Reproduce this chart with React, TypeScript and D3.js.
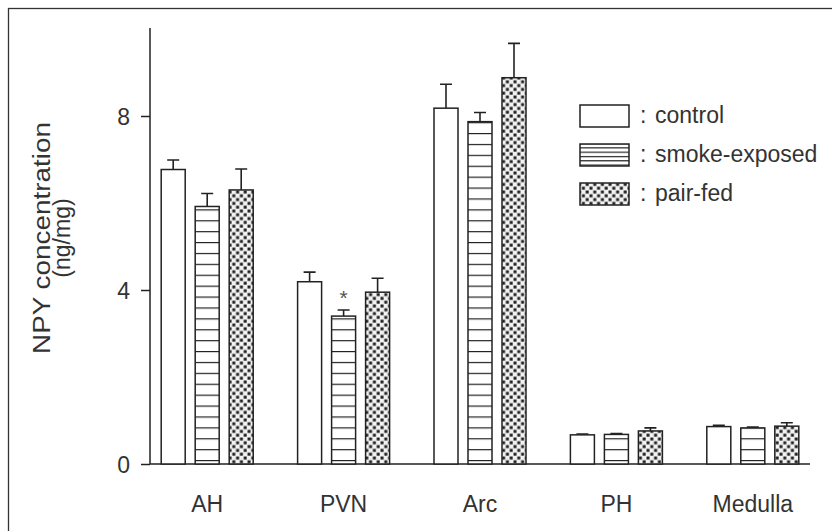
import React, { useEffect, useRef } from 'react';
import * as d3 from 'd3';

// regions on the x axis
const regions = ['AH', 'PVN', 'Arc', 'PH', 'Medulla'];
const groups = ['control', 'smoke-exposed', 'pair-fed'];

// NPY concentration (ng/mg), mean and SEM
const control = [6.77, 4.19, 8.18, 0.67, 0.86];
const controlErr = [0.22, 0.22, 0.55, 0.02, 0.03];
const smoke = [5.92, 3.40, 7.87, 0.68, 0.83];
const smokeErr = [0.30, 0.14, 0.21, 0.02, 0.02];
const pairFed = [6.30, 3.95, 8.88, 0.76, 0.87];
const pairFedErr = [0.48, 0.32, 0.79, 0.07, 0.08];

const yTicks = [0, 4, 8];
// significant difference marks: [region, group]
const stars = [['PVN', 'smoke-exposed']];

const fills = ['white', 'url(#stripes)', 'url(#checks)'];
const legendFills = ['white', 'url(#stripesSmall)', 'url(#checks)'];
const ink = '#222';
const font = '"Liberation Sans", Arial, Helvetica, sans-serif';
const fs = 23;

export default function App() {
    const ref = useRef<SVGSVGElement>(null);

    useEffect(() => {
        const width = 832, height = 531;
        const svg = d3.select(ref.current);
        svg.selectAll('*').remove();

        const baseY = 464;
        const axisX = 150;

        var y = d3.scaleLinear().domain([0, 10]).range([baseY, 29]);
        var x = d3.scaleBand().domain(regions).range([139, 821]).padding(0);
        var xi = d3.scaleBand().domain(groups).range([-46, 46]).paddingInner(10 / 34);

        // patterns
        const defs = svg.append('defs');
        const stripe = (id: string, step: number, offset: number) => {
            const p = defs.append('pattern').attr('id', id)
                .attr('patternUnits', 'userSpaceOnUse')
                .attr('width', 8).attr('height', step)
                .attr('patternTransform', 'translate(0,' + offset + ')');
            p.append('rect').attr('width', 8).attr('height', step).attr('fill', 'white');
            p.append('line').attr('x1', 0).attr('x2', 8).attr('y1', 0.6).attr('y2', 0.6)
                .attr('stroke', ink).attr('stroke-width', 1.2);
        };
        stripe('stripes', 10.9, baseY - 4);
        stripe('stripesSmall', 4.3, 143);
        const checks = (id: string, s: number) => {
            const p = defs.append('pattern').attr('id', id)
                .attr('patternUnits', 'userSpaceOnUse')
                .attr('width', s * 2).attr('height', s * 2);
            p.append('rect').attr('width', s * 2).attr('height', s * 2).attr('fill', '#f2f2f2');
            p.append('rect').attr('x', 0.5).attr('y', 0.5).attr('width', s - 0.8).attr('height', s - 0.8).attr('fill', '#1e1e1e');
            p.append('rect').attr('x', s + 0.5).attr('y', s + 0.5).attr('width', s - 0.8).attr('height', s - 0.8).attr('fill', '#1e1e1e');
        };
        checks('checks', 3.8);

        // outer frame (right/bottom edges fall outside the scan)
        svg.append('rect').attr('x', 8.5).attr('y', 8.5)
            .attr('width', width + 20).attr('height', height + 20)
            .attr('fill', 'none').attr('stroke', '#333').attr('stroke-width', 1.3);

        // y axis
        const yAxis = d3.axisLeft(y).tickValues(yTicks).tickSize(9).tickSizeOuter(0).tickPadding(11)
            .tickFormat(d3.format('d'));
        const ga = svg.append('g').attr('transform', 'translate(' + axisX + ',0)').call(yAxis);
        ga.select('.domain').attr('stroke', ink).attr('stroke-width', 1.5)
            .attr('d', 'M0,' + (y(10) - 1) + 'V' + baseY);
        ga.selectAll('.tick line').attr('stroke', ink).attr('stroke-width', 1.5);
        ga.selectAll('.tick text').attr('font-family', font).attr('font-size', fs)
            .attr('fill', '#333').attr('dy', '0.36em');

        // x axis line
        svg.append('line').attr('x1', axisX).attr('x2', 810)
            .attr('y1', baseY).attr('y2', baseY)
            .attr('stroke', ink).attr('stroke-width', 1.5);

        // category labels
        svg.selectAll('.xlab').data(regions).enter().append('text')
            .attr('class', 'xlab')
            .attr('x', d => (x(d) as number) + x.bandwidth() / 2)
            .attr('y', 512)
            .attr('text-anchor', 'middle')
            .attr('font-family', font).attr('font-size', fs).attr('fill', '#333')
            .text(d => d);

        // y title
        const title = svg.append('text').attr('transform', 'translate(50,238) rotate(-90)')
            .attr('text-anchor', 'middle').attr('font-family', font)
            .attr('font-size', fs).attr('fill', '#333');
        title.append('tspan').attr('x', 0).attr('y', 0)
            .attr('textLength', 232).attr('lengthAdjust', 'spacingAndGlyphs')
            .text('NPY concentration');
        title.append('tspan').attr('x', 0).attr('y', 20).text('(ng/mg)');

        // bars
        const series = [
            { key: groups[0], vals: control, errs: controlErr },
            { key: groups[1], vals: smoke, errs: smokeErr },
            { key: groups[2], vals: pairFed, errs: pairFedErr }
        ];
        series.forEach((s, si) => {
            const data = regions.map((r, i) => ({ r: r, v: s.vals[i], e: s.errs[i] }));
            const g = svg.append('g');
            const bx = (d: any) => (x(d.r) as number) + x.bandwidth() / 2 + (xi(s.key) as number);
            const bw = xi.bandwidth();

            // error bars (upper only)
            g.selectAll('.err').data(data).enter().append('path')
                .attr('d', d => {
                    const cx = bx(d) + bw / 2;
                    return 'M' + cx + ',' + y(d.v) + 'V' + y(d.v + d.e) +
                        'M' + (cx - 6) + ',' + y(d.v + d.e) + 'H' + (cx + 6);
                })
                .attr('stroke', ink).attr('stroke-width', 1.6).attr('fill', 'none');

            g.selectAll('rect').data(data).enter().append('rect')
                .attr('x', d => bx(d))
                .attr('y', d => y(d.v))
                .attr('width', bw)
                .attr('height', d => baseY - y(d.v))
                .attr('fill', fills[si])
                .attr('stroke', ink).attr('stroke-width', 1.5);
        });

        // asterisks
        stars.forEach(([r, k]) => {
            const si = groups.indexOf(k);
            const i = regions.indexOf(r);
            const s = series[si];
            svg.append('text')
                .attr('x', (x(r) as number) + x.bandwidth() / 2 + (xi(k) as number) + xi.bandwidth() / 2)
                .attr('y', y(s.vals[i] + s.errs[i]) - 5)
                .attr('text-anchor', 'middle')
                .attr('font-family', font).attr('font-size', 21).attr('fill', '#555')
                .text('*');
        });

        // legend
        const lg = svg.append('g');
        groups.forEach((k, i) => {
            const top = 105 + i * 39;
            lg.append('rect').attr('x', 580).attr('y', top)
                .attr('width', 49).attr('height', 22)
                .attr('fill', legendFills[i]).attr('stroke', ink).attr('stroke-width', 1.5);
            lg.append('text').attr('x', 640).attr('y', top + 18)
                .attr('font-family', font).attr('font-size', fs).attr('fill', '#333')
                .text(':');
            lg.append('text').attr('x', 655).attr('y', top + 18)
                .attr('font-family', font).attr('font-size', fs).attr('fill', '#333')
                .text(k);
        });
    }, []);

    return (
        <div style={{ position: 'absolute', left: 0, top: 0 }}>
            <svg ref={ref} width={832} height={531} style={{ display: 'block', background: 'white' }}></svg>
        </div>
    );
}
